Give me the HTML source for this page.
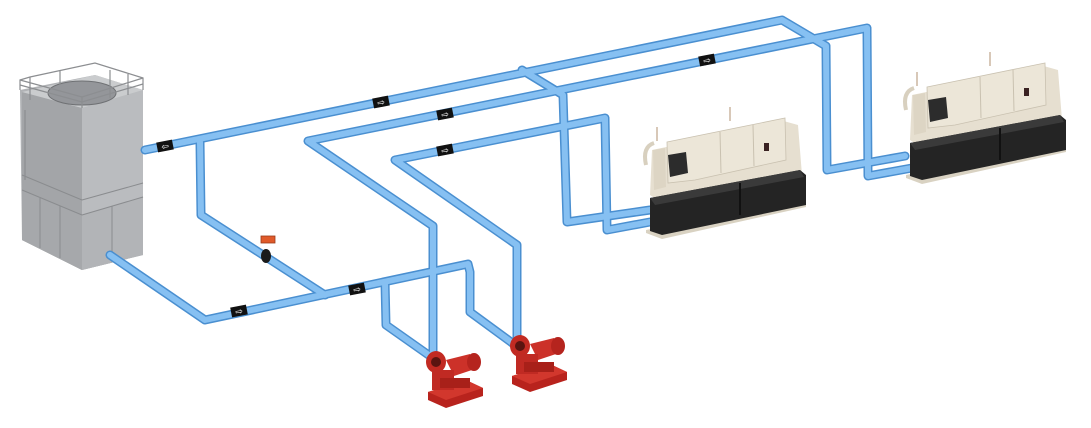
<!DOCTYPE html>
<html><head><meta charset="utf-8"><style>
html,body{margin:0;padding:0;background:#fff;width:1091px;height:428px;overflow:hidden}
</style></head><body>
<svg width="1091" height="428" viewBox="0 0 1091 428" xmlns="http://www.w3.org/2000/svg">
<defs>
<g id="chiller">
  <polygon points="906,175 1066,142 1066,152 922,184 906,178" fill="#d9d2c2"/>
  <polygon points="912,95 960,85 1040,65 1058,70 1062,120 925,150 910,140" fill="#e6dfd0"/>
  <polygon points="927,87 1045,63 1046,105 955,125 928,128" fill="#ece6d8" stroke="#c9c1b0" stroke-width="0.8"/>
  <line x1="980" y1="77" x2="981" y2="118" stroke="#c9c1b0"/>
  <line x1="1013" y1="70" x2="1014" y2="111" stroke="#c9c1b0"/>
  <rect x="1024" y="88" width="5" height="8" fill="#3a2222"/>
  <polygon points="913,95 925,93 926,132 914,135" fill="#ddd5c4"/>
  <path d="M906,110 q-4,-18 8,-22" stroke="#d8d0bf" stroke-width="4" fill="none"/>
  <line x1="917" y1="86" x2="917" y2="72" stroke="#b09070" stroke-width="1"/>
  <line x1="990" y1="66" x2="990" y2="52" stroke="#b09070" stroke-width="1"/>
  <polygon points="928,100 946,97 948,118 930,122" fill="#2c2c2c"/>
  <polygon points="910,143 1060,115 1066,120 1066,150 922,180 910,176" fill="#242424"/>
  <polygon points="910,143 1060,115 1064,122 915,150" fill="#3a3a3a"/>
  <line x1="1000" y1="128" x2="1000" y2="160" stroke="#111" stroke-width="2"/>
</g>
<g id="pump">
  <polygon points="0,40 38,28 55,36 55,44 18,56 0,48" fill="#b8231d"/>
  <polygon points="0,40 38,28 55,36 18,48" fill="#d2372d"/>
  <ellipse cx="8" cy="10" rx="10" ry="11" fill="#c22a22"/>
  <circle cx="8" cy="10" r="5" fill="#5a1410"/>
  <polygon points="18,8 42,2 50,16 26,24" fill="#cc3129"/>
  <ellipse cx="46" cy="10" rx="7" ry="9" fill="#b5241e"/>
  <rect x="4" y="18" width="22" height="20" fill="#c02a23"/>
  <rect x="12" y="26" width="30" height="10" fill="#a82019"/>
</g>
</defs>

<g>
  <polygon points="20,90 95,75 143,90 143,255 82,270 22,240" fill="#b0b2b5"/>
  <polygon points="22,92 82,108 82,270 22,240" fill="#a3a5a8"/>
  <polygon points="82,108 143,90 143,255 82,270" fill="#babcbf"/>
  <polygon points="22,92 95,75 143,90 82,108" fill="#caccce"/>
  <polygon points="22,190 82,215 82,270 22,240" fill="#a6a8ab"/>
  <polygon points="82,215 143,197 143,255 82,270" fill="#b2b4b7"/>
  <line x1="82" y1="200" x2="143" y2="183" stroke="#8a8c8f"/>
  <line x1="82" y1="215" x2="143" y2="197" stroke="#8a8c8f"/>
  <line x1="22" y1="175" x2="82" y2="200" stroke="#8a8c8f"/>
  <line x1="22" y1="190" x2="82" y2="215" stroke="#8a8c8f"/>
  <line x1="40" y1="198" x2="40" y2="248" stroke="#8a8c8f"/>
  <line x1="60" y1="206" x2="60" y2="258" stroke="#8a8c8f"/>
  <line x1="112" y1="206" x2="112" y2="262" stroke="#8a8c8f"/>
  <ellipse cx="82" cy="93" rx="34" ry="12" fill="#94969a" stroke="#6f7174"/>
  <g stroke="#8c8e91" stroke-width="1.2" fill="none">
    <polyline points="20,90 20,80 30,77 95,63 143,78 143,90"/>
    <polyline points="20,80 82,97 143,78"/>
    <line x1="82" y1="97" x2="82" y2="108"/>
    <line x1="30" y1="77" x2="30" y2="100"/>
    <line x1="60" y1="70" x2="60" y2="85"/>
    <line x1="110" y1="70" x2="110" y2="98"/>
    <line x1="128" y1="74" x2="128" y2="95"/>
    <polyline points="20,85 82,102 143,84"/>
    <line x1="25" y1="110" x2="25" y2="180"/>
  </g>
</g>

<g fill="none" stroke-linejoin="round" stroke-linecap="round">
  <g stroke="#4a8fd0" stroke-width="9">
    <polyline points="145,150 782,20 826,46 827,170 905,156"/>
    <polyline points="522,70 563,95 567,222 650,210"/>
    <polyline points="433,358 433,226 308,141 867,28 868,176 912,168"/>
    <polyline points="517,342 517,245 395,160 605,118 607,230 650,222"/>
    <polyline points="200,142 201,215 325,295"/>
    <polyline points="110,255 205,320 468,264 470,272 470,312 515,345"/>
    <polyline points="385,282 386,325 430,356"/>
  </g>
  <g stroke="#86c0f2" stroke-width="6">
    <polyline points="145,150 782,20 826,46 827,170 905,156"/>
    <polyline points="522,70 563,95 567,222 650,210"/>
    <polyline points="433,358 433,226 308,141 867,28 868,176 912,168"/>
    <polyline points="517,342 517,245 395,160 605,118 607,230 650,222"/>
    <polyline points="200,142 201,215 325,295"/>
    <polyline points="110,255 205,320 468,264 470,272 470,312 515,345"/>
    <polyline points="385,282 386,325 430,356"/>
  </g>
</g>

<g font-family="DejaVu Sans, sans-serif" font-size="9" fill="#fff" text-anchor="middle">
  <g transform="translate(165,146) rotate(-11)"><rect x="-8" y="-5" width="16" height="10" fill="#111"/><text x="0" y="3.5">⇦</text></g>
  <g transform="translate(381,102) rotate(-11)"><rect x="-8" y="-5" width="16" height="10" fill="#111"/><text x="0" y="3.5">⇨</text></g>
  <g transform="translate(445,114) rotate(-11)"><rect x="-8" y="-5" width="16" height="10" fill="#111"/><text x="0" y="3.5">⇨</text></g>
  <g transform="translate(445,150) rotate(-11)"><rect x="-8" y="-5" width="16" height="10" fill="#111"/><text x="0" y="3.5">⇨</text></g>
  <g transform="translate(707,60) rotate(-11)"><rect x="-8" y="-5" width="16" height="10" fill="#111"/><text x="0" y="3.5">⇨</text></g>
  <g transform="translate(239,311) rotate(-11)"><rect x="-8" y="-5" width="16" height="10" fill="#111"/><text x="0" y="3.5">⇨</text></g>
  <g transform="translate(357,289) rotate(-11)"><rect x="-8" y="-5" width="16" height="10" fill="#111"/><text x="0" y="3.5">⇨</text></g>
</g>

<ellipse cx="266" cy="256" rx="5" ry="7" fill="#1a1a1a"/>
<rect x="261" y="236" width="14" height="7" fill="#e05a2a" stroke="#9a3a1a" stroke-width="0.8"/>

<use href="#chiller"/>
<use href="#chiller" transform="translate(-260,55)"/>

<use href="#pump" transform="translate(428,352)"/>
<use href="#pump" transform="translate(512,336)"/>
</svg>
</body></html>
